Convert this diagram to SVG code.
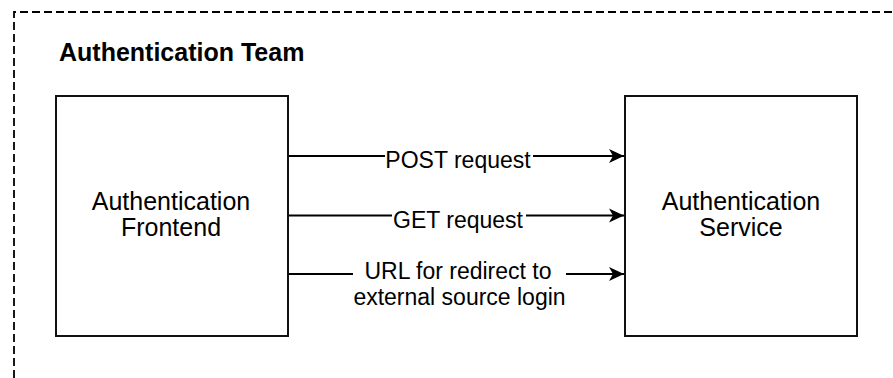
<svg xmlns="http://www.w3.org/2000/svg" width="893" height="378" viewBox="0 0 893 378">
  <style>
    .group { fill: none; stroke: #000; stroke-width: 1.8; stroke-dasharray: 8 4; }
    .box { fill: #fff; stroke: #111; stroke-width: 2; }
    .edge { fill: none; stroke: #000; stroke-width: 1.8; }
    .title { font-family: "Liberation Sans", Arial, sans-serif; font-weight: bold; font-size: 25px; fill: #000; }
    .node-label { font-family: "Liberation Sans", Arial, sans-serif; font-size: 25px; fill: #000; text-anchor: middle; }
    .edge-label { font-family: "Liberation Sans", Arial, sans-serif; font-size: 23px; fill: #000; text-anchor: middle; }
    .label-bg { fill: #fff; stroke: none; }
  </style>
  <defs>
    <marker id="arrow" viewBox="0 0 17 15" refX="16" refY="7.5" markerWidth="17" markerHeight="15" markerUnits="userSpaceOnUse" orient="auto">
      <path d="M16 7.5 L1 0.5 L5 7.5 L1 14.5 Z" fill="#000"/>
    </marker>
  </defs>

  <rect width="893" height="378" fill="#fff"/>

  <!-- team boundary (open to the right and bottom) -->
  <g id="team">
    <path class="group" d="M14 390 L14 12 L900 12"/>
    <text class="title" x="59" y="61">Authentication Team</text>
  </g>

  <!-- connectors -->
  <g id="connectors">
    <line class="edge" x1="289" y1="156" x2="624" y2="156" marker-end="url(#arrow)"/>
    <line class="edge" x1="289" y1="215.5" x2="624" y2="215.5" marker-end="url(#arrow)"/>
    <line class="edge" x1="289" y1="274" x2="624" y2="274" marker-end="url(#arrow)"/>

    <rect class="label-bg" x="385" y="150" width="148" height="22"/>
    <text class="edge-label" x="458" y="167.5">POST request</text>

    <rect class="label-bg" x="392" y="209" width="134" height="22"/>
    <text class="edge-label" x="458" y="227.5">GET request</text>

    <rect class="label-bg" x="353" y="262" width="213" height="48"/>
    <text class="edge-label" x="458" y="278.5">URL for redirect to</text>
    <text class="edge-label" x="459.5" y="304.5">external source login</text>
  </g>

  <g id="frontend">
    <rect class="box" x="56" y="96" width="232" height="240"/>
    <text class="node-label" x="171" y="210">Authentication</text>
    <text class="node-label" x="171" y="236">Frontend</text>
  </g>

  <g id="service">
    <rect class="box" x="625" y="96" width="232" height="240"/>
    <text class="node-label" x="741" y="210">Authentication</text>
    <text class="node-label" x="741" y="236">Service</text>
  </g>
</svg>
